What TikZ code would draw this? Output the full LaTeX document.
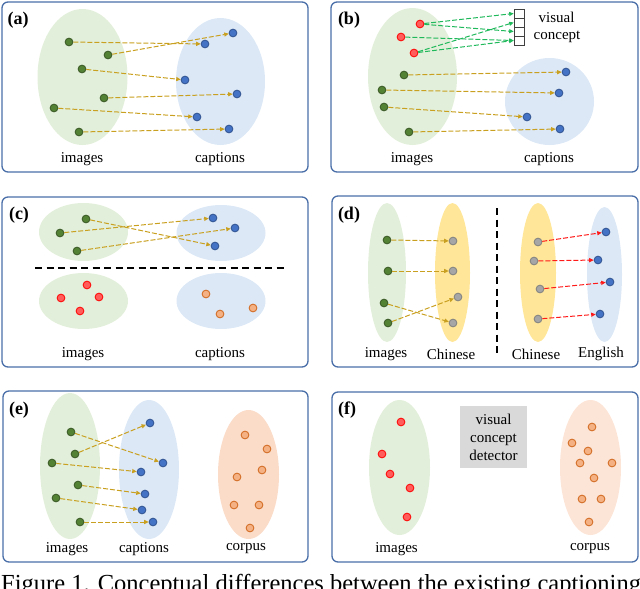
\documentclass[tikz,border=0pt]{standalone}
\usepackage{fontspec}
\setmainfont{Liberation Serif}
\usetikzlibrary{shapes.geometric,arrows.meta}
\definecolor{panelc}{HTML}{4A6FA8}
\definecolor{gfill}{HTML}{E2EFDA}
\definecolor{bfill}{HTML}{DCE8F6}
\definecolor{yfill}{HTML}{FFE699}
\definecolor{ofillA}{HTML}{FBDCC9}
\definecolor{ofillB}{HTML}{FCE4D6}
\definecolor{dotg}{HTML}{548235}
\definecolor{dotgd}{HTML}{375623}
\definecolor{dotb}{HTML}{4472C4}
\definecolor{dotbd}{HTML}{2F528F}
\definecolor{dotr}{HTML}{FF5C5C}
\definecolor{dotrd}{HTML}{FF0000}
\definecolor{doto}{HTML}{F4B183}
\definecolor{dotod}{HTML}{D0651A}
\definecolor{dotgr}{HTML}{A6A6A6}
\definecolor{dotgrd}{HTML}{7F7F7F}
\definecolor{arrgold}{HTML}{C9A020}
\definecolor{arrgreen}{HTML}{1FB85A}
\definecolor{arrred}{HTML}{FF1A1A}
\definecolor{boxgray}{HTML}{D9D9D9}
\begin{document}
\begin{tikzpicture}[x=1pt,y=-1pt,
  panel/.style={draw=panelc, line width=1.3pt, rounded corners=6pt},
  blob/.style={ellipse, inner sep=0pt, draw=none},
  dotbase/.style={circle, inner sep=0pt, minimum size=7.8pt, line width=0.8pt},
  gdot/.style={dotbase, fill=dotg, draw=dotgd},
  bdot/.style={dotbase, fill=dotb, draw=dotbd},
  rdot/.style={dotbase, fill=dotr, draw=dotrd},
  odot/.style={dotbase, fill=doto, draw=dotod},
  grdot/.style={dotbase, fill=dotgr, draw=dotgrd},
  arrbase/.style={line width=1pt, dash pattern=on 5pt off 2pt, -{Triangle[length=4.5pt,width=4pt]}},
  goldarr/.style={arrbase, draw=arrgold},
  greenarr/.style={arrbase, draw=arrgreen},
  redarr/.style={arrbase, draw=arrred},
  sepline/.style={draw=black, line width=1.5pt, dash pattern=on 7pt off 4.5pt},
  cell/.style={rectangle, draw=black!75, line width=0.6pt, minimum width=10pt, minimum height=9pt, inner sep=0pt},
  lab/.style={font=\fontsize{15}{18}\selectfont, inner sep=0pt},
  plab/.style={font=\fontsize{18}{20}\selectfont\bfseries, inner sep=0pt}
]
\useasboundingbox (0,0) rectangle (640,589);

% ---------- panel frames
\draw[panel] (2,2) rectangle (308,172);
\draw[panel] (331,2) rectangle (638,172);
\draw[panel] (2,197) rectangle (308,367);
\draw[panel] (332,196) rectangle (638,367);
\draw[panel] (3,391) rectangle (308,562);
\draw[panel] (332,392) rectangle (638,562);

% ---------- (a)
\node[blob, fill=gfill, minimum width=90pt, minimum height=136pt] (aimg) at (82.5,77) {};
\node[blob, fill=bfill, minimum width=89pt, minimum height=127pt] (acap) at (220.5,81.5) {};
\node[gdot] (a1) at (69,42) {};
\node[gdot] (a2) at (108,55) {};
\node[gdot] (a3) at (82,69) {};
\node[gdot] (a4) at (104,98) {};
\node[gdot] (a5) at (54,108) {};
\node[gdot] (a6) at (79,132) {};
\node[bdot] (ab1) at (233,33) {};
\node[bdot] (ab2) at (205,44) {};
\node[bdot] (ab3) at (185,80) {};
\node[bdot] (ab4) at (237,94) {};
\node[bdot] (ab5) at (197,117) {};
\node[bdot] (ab6) at (229,129) {};
\draw[goldarr] (a1) -- (ab2);
\draw[goldarr] (a2) -- (ab1);
\draw[goldarr] (a3) -- (ab3);
\draw[goldarr] (a4) -- (ab4);
\draw[goldarr] (a5) -- (ab5);
\draw[goldarr] (a6) -- (ab6);
\node[lab] (alab1) at (82,159) {images};
\node[lab] (alab2) at (220,159) {captions};
\node[plab] (atag) at (18,20) {(a)};

% ---------- (b)
\node[blob, fill=gfill, minimum width=89pt, minimum height=137pt] (bimg) at (412.5,76.5) {};
\node[blob, fill=bfill, minimum width=89pt, minimum height=87pt] (bcap) at (549.5,101.5) {};
\node[rdot] (br1) at (420,24) {};
\node[rdot] (br2) at (401,37) {};
\node[rdot] (br3) at (414,53) {};
\node[gdot] (bg1) at (404,75) {};
\node[gdot] (bg2) at (382,90) {};
\node[gdot] (bg3) at (384,107) {};
\node[gdot] (bg4) at (409,132) {};
\node[bdot] (bb1) at (566,72) {};
\node[bdot] (bb2) at (559,93) {};
\node[bdot] (bb3) at (527,117) {};
\node[bdot] (bb4) at (560,129) {};
\node[cell] (c1) at (519,13.5) {};
\node[cell] (c2) at (519,22.5) {};
\node[cell] (c3) at (519,31.5) {};
\node[cell] (c4) at (519,40.5) {};
\draw[greenarr] (br1) -- (c1.west);
\draw[greenarr] (br1) -- (c3.west);
\draw[greenarr] (br2) -- (c4.west);
\draw[greenarr] (br3) -- (c2.west);
\draw[greenarr] (br3) -- (c4.west);
\draw[goldarr] (bg1) -- (bb1);
\draw[goldarr] (bg2) -- (bb2);
\draw[goldarr] (bg3) -- (bb3);
\draw[goldarr] (bg4) -- (bb4);
\node[lab] (bvis) at (556.5,17) {visual};
\node[lab] (bcon) at (557,37) {concept};
\node[lab] (blab1) at (412,159) {images};
\node[lab] (blab2) at (549,159) {captions};
\node[plab] (btag) at (349,20) {(b)};

% ---------- (c)
\node[blob, fill=gfill, minimum width=89pt, minimum height=58pt] (cimg1) at (83.5,232) {};
\node[blob, fill=bfill, minimum width=89pt, minimum height=56pt] (ccap1) at (221,233) {};
\node[blob, fill=gfill, minimum width=89pt, minimum height=56pt] (cimg2) at (83.5,301) {};
\node[blob, fill=bfill, minimum width=89pt, minimum height=56pt] (ccap2) at (221,301) {};
\coordinate (cl1) at (35,268);
\coordinate (cl2) at (287,268);
\draw[sepline] (cl1) -- (cl2);
\node[gdot] (cg1) at (86,219) {};
\node[gdot] (cg2) at (60,233) {};
\node[gdot] (cg3) at (77,251) {};
\node[bdot] (cb1) at (213,218) {};
\node[bdot] (cb2) at (235,228) {};
\node[bdot] (cb3) at (215,246) {};
\draw[goldarr] (cg1) -- (cb3);
\draw[goldarr] (cg2) -- (cb1);
\draw[goldarr] (cg3) -- (cb2);
\node[rdot] (cr1) at (87,285) {};
\node[rdot] (cr2) at (61,298) {};
\node[rdot] (cr3) at (99,297) {};
\node[rdot] (cr4) at (80,311) {};
\node[odot] (co1) at (206,294) {};
\node[odot] (co2) at (253,308) {};
\node[odot] (co3) at (220,314) {};
\node[lab] (clab1) at (83,354) {images};
\node[lab] (clab2) at (220,354) {captions};
\node[plab] (ctag) at (19,215) {(c)};

% ---------- (d)
\node[blob, fill=gfill, minimum width=38pt, minimum height=139pt] (dimg) at (387,272.5) {};
\node[blob, fill=yfill, minimum width=35pt, minimum height=139pt] (dch1) at (452.5,272.5) {};
\node[blob, fill=yfill, minimum width=36pt, minimum height=139pt] (dch2) at (538,272.5) {};
\node[blob, fill=bfill, minimum width=35pt, minimum height=135pt] (den) at (604.5,274.5) {};
\coordinate (dl1) at (497,208);
\coordinate (dl2) at (497,353);
\draw[sepline] (dl1) -- (dl2);
\node[gdot] (dg1) at (387,240) {};
\node[gdot] (dg2) at (388,271) {};
\node[gdot] (dg3) at (384,303) {};
\node[gdot] (dg4) at (388,323) {};
\node[grdot] (dy1) at (453,241) {};
\node[grdot] (dy2) at (453,271) {};
\node[grdot] (dy3) at (458,297) {};
\node[grdot] (dy4) at (453,323) {};
\draw[goldarr] (dg1) -- (dy1);
\draw[goldarr] (dg2) -- (dy2);
\draw[goldarr] (dg3) -- (dy4);
\draw[goldarr] (dg4) -- (dy3);
\node[grdot] (dz1) at (538,242) {};
\node[grdot] (dz2) at (534,261) {};
\node[grdot] (dz3) at (540,289) {};
\node[grdot] (dz4) at (538,319) {};
\node[bdot] (de1) at (606,232) {};
\node[bdot] (de2) at (598,260) {};
\node[bdot] (de3) at (610,282) {};
\node[bdot] (de4) at (600,314) {};
\draw[redarr] (dz1) -- (de1);
\draw[redarr] (dz2) -- (de2);
\draw[redarr] (dz3) -- (de3);
\draw[redarr] (dz4) -- (de4);
\node[lab] (dlab1) at (386,354) {images};
\node[lab] (dlab2) at (451,354) {Chinese};
\node[lab] (dlab3) at (536,354) {Chinese};
\node[lab] (dlab4) at (601,354) {English};
\node[plab] (dtag) at (349,215) {(d)};

% ---------- (e)
\node[blob, fill=gfill, minimum width=60pt, minimum height=146pt] (eimg) at (70,466) {};
\node[blob, fill=bfill, minimum width=60pt, minimum height=139pt] (ecap) at (149,469.5) {};
\node[blob, fill=ofillA, minimum width=61pt, minimum height=129pt] (ecor) at (248.5,474.5) {};
\node[gdot] (eg1) at (71,432) {};
\node[gdot] (eg2) at (75,454) {};
\node[gdot] (eg3) at (52,463) {};
\node[gdot] (eg4) at (78,485) {};
\node[gdot] (eg5) at (56,498) {};
\node[gdot] (eg6) at (80,522) {};
\node[bdot] (eb1) at (150,423) {};
\node[bdot] (eb2) at (163,463) {};
\node[bdot] (eb3) at (141,472) {};
\node[bdot] (eb4) at (145,494) {};
\node[bdot] (eb5) at (142,510) {};
\node[bdot] (eb6) at (153,522) {};
\draw[goldarr] (eg1) -- (eb2);
\draw[goldarr] (eg2) -- (eb1);
\draw[goldarr] (eg3) -- (eb3);
\draw[goldarr] (eg4) -- (eb4);
\draw[goldarr] (eg5) -- (eb5);
\draw[goldarr] (eg6) -- (eb6);
\node[odot] (eo1) at (245,435) {};
\node[odot] (eo2) at (267,449) {};
\node[odot] (eo3) at (262,470) {};
\node[odot] (eo4) at (237,477) {};
\node[odot] (eo5) at (234,505) {};
\node[odot] (eo6) at (259,505) {};
\node[odot] (eo7) at (250,528) {};
\node[lab] (elab1) at (67,549) {images};
\node[lab] (elab2) at (144,549) {captions};
\node[lab] (elab3) at (246,549) {corpus};
\node[plab] (etag) at (19,410) {(e)};

% ---------- (f)
\node[blob, fill=gfill, minimum width=61pt, minimum height=135pt] (fimg) at (399.5,467.5) {};
\node[blob, fill=ofillB, minimum width=61pt, minimum height=135pt] (fcor) at (590.5,467.5) {};
\node[rectangle, fill=boxgray, minimum width=67pt, minimum height=62pt, inner sep=0pt,
      align=center, font=\fontsize{15}{18}\selectfont] (fdet) at (493.5,437) {visual\\concept\\detector};
\node[rdot] (fr1) at (401,422) {};
\node[rdot] (fr2) at (382,454) {};
\node[rdot] (fr3) at (390,474) {};
\node[rdot] (fr4) at (410,488) {};
\node[rdot] (fr5) at (407,517) {};
\node[odot] (fo1) at (592,427) {};
\node[odot] (fo2) at (572,443) {};
\node[odot] (fo3) at (588,451) {};
\node[odot] (fo4) at (580,463) {};
\node[odot] (fo5) at (612,463) {};
\node[odot] (fo6) at (594,478) {};
\node[odot] (fo7) at (582,499) {};
\node[odot] (fo8) at (601,499) {};
\node[odot] (fo9) at (589,522) {};
\node[lab] (flab1) at (396.5,549) {images};
\node[lab] (flab2) at (590,549) {corpus};
\node[plab] (ftag) at (347,410) {(f)};

% ---------- caption (cut by the page edge, as in the reference)
\node[anchor=base west, inner sep=0pt, font=\fontsize{24.5}{28}\selectfont] (figcap) at (1,591)
  {Figure 1. Conceptual differences between the existing captioning};
\end{tikzpicture}
\end{document}
